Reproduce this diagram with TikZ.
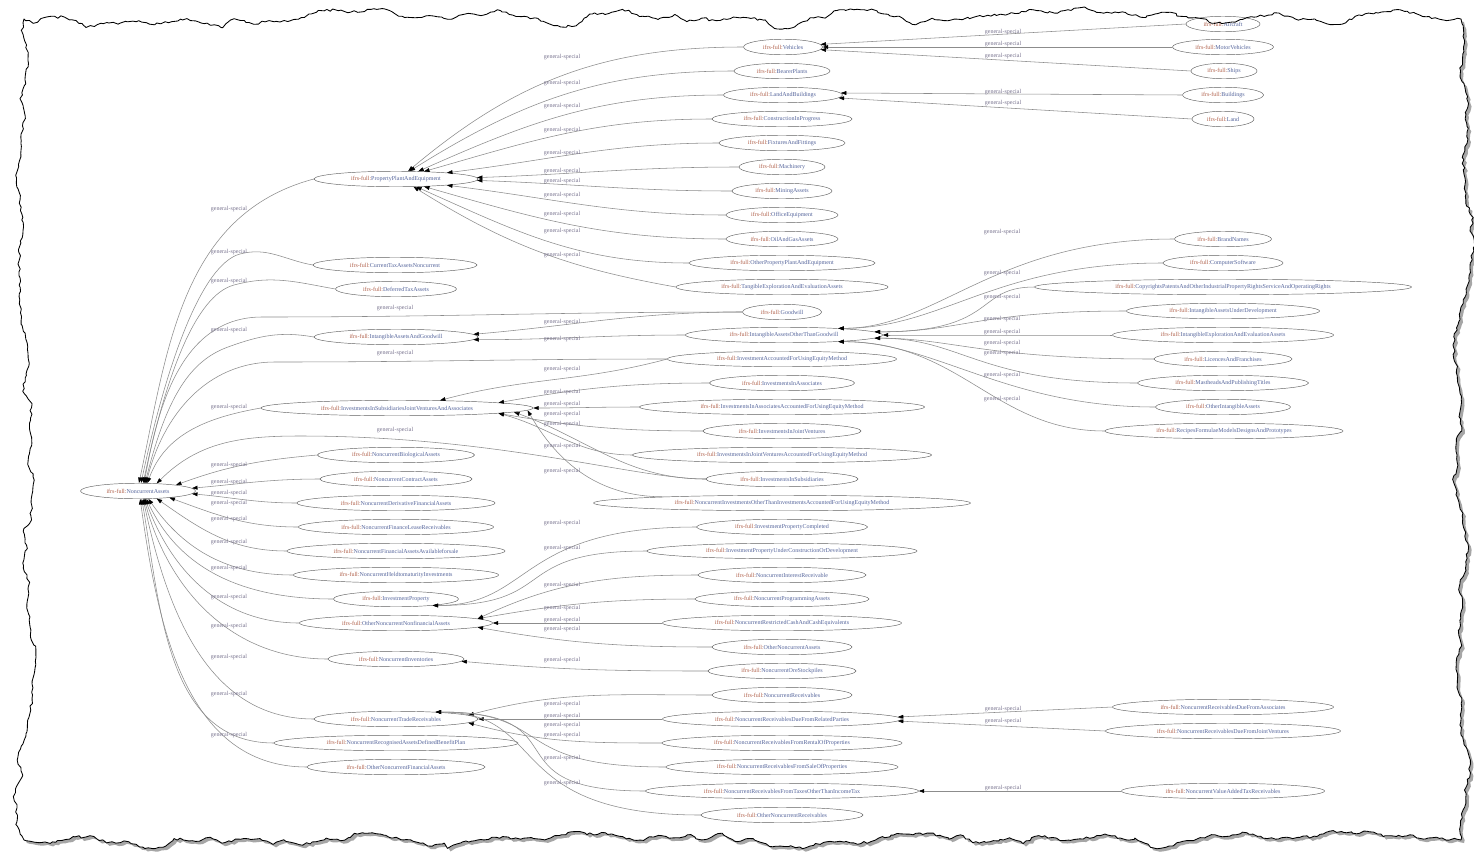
\documentclass[tikz,border=0pt]{standalone}
\usepackage{fontspec}
\setmainfont{Liberation Serif}
\usetikzlibrary{shapes.geometric,arrows.meta,decorations.pathmorphing}
\definecolor{pfx}{HTML}{B0604A}
\definecolor{loc}{HTML}{55659C}
\definecolor{lab}{HTML}{7A7590}
\definecolor{edg}{HTML}{8C8C8C}
\tikzset{
  nd/.style={ellipse,draw=black!62,line width=0.45pt,fill=white,inner sep=0pt,minimum height=15.5pt,font=\fontsize{6}{7}\selectfont},
  gslab/.style={inner sep=0pt,font=\fontsize{6}{7}\selectfont,text=lab},
  gse/.style={draw=edg,line width=0.55pt,-{Triangle[length=5.5pt,width=3.8pt,color=black]}},
  tornA/.style={decoration={random steps,segment length=60pt,amplitude=10pt}},
  tornM/.style={decoration={random steps,segment length=16pt,amplitude=5pt}},
  tornB/.style={decoration={random steps,segment length=3.5pt,amplitude=1.3pt}},
}
\newcommand\nd[5]{\node[nd,minimum width=#4pt] (#1) at (#2,#3) {\textcolor{pfx}{ifrs-full:}\textcolor{loc}{#5}};}
\begin{document}
\begin{tikzpicture}[x=1pt,y=-1pt]
\useasboundingbox (0,0) rectangle (1474,857);
\fill[white] (0,0) rectangle (1474,857);
\pgfmathsetseed{11}
\fill[black!35,xshift=3pt,yshift=-3pt] decorate[tornB]{decorate[tornM]{decorate[tornA]{(24,19) rectangle (1461,840)}}};
\pgfmathsetseed{11}
\fill[white] decorate[tornB]{decorate[tornM]{decorate[tornA]{(24,19) rectangle (1461,840)}}};

% column 1
\nd{NA}{138}{491}{115}{NoncurrentAssets}
% column 2
\nd{PPE}{396}{179}{164}{PropertyPlantAndEquipment}
\nd{CTAN}{395}{265}{164}{CurrentTaxAssetsNoncurrent}
\nd{DTA}{396}{289}{121}{DeferredTaxAssets}
\nd{IAG}{396}{337}{164}{IntangibleAssetsAndGoodwill}
\nd{ISJVA}{397}{408}{272}{InvestmentsInSubsidiariesJointVenturesAndAssociates}
\nd{NBA}{396}{455}{157}{NoncurrentBiologicalAssets}
\nd{NCA}{396}{479}{152}{NoncurrentContractAssets}
\nd{NDFA}{396}{503}{198}{NoncurrentDerivativeFinancialAssets}
\nd{NFLR}{396}{527}{195}{NoncurrentFinanceLeaseReceivables}
\nd{NFAAFS}{396}{551}{218}{NoncurrentFinancialAssetsAvailableforsale}
\nd{NHTM}{396}{575}{205}{NoncurrentHeldtomaturityInvestments}
\nd{IP}{396}{599}{125}{InvestmentProperty}
\nd{ONNFA}{396}{623}{193}{OtherNoncurrentNonfinancialAssets}
\nd{NI}{396}{659}{136}{NoncurrentInventories}
\nd{NTR}{396}{719}{164}{NoncurrentTradeReceivables}
\nd{NRADBP}{396}{743}{244}{NoncurrentRecognisedAssetsDefinedBenefitPlan}
\nd{ONFA}{396}{767}{178}{OtherNoncurrentFinancialAssets}
% column 3
\nd{Vehicles}{783}{47}{79}{Vehicles}
\nd{BearerPlants}{782}{71}{96}{BearerPlants}
\nd{LAB}{783}{95}{119}{LandAndBuildings}
\nd{CIP}{782}{119}{140}{ConstructionInProgress}
\nd{FAF}{782}{143}{126}{FixturesAndFittings}
\nd{Mach}{782}{167}{86}{Machinery}
\nd{Mining}{782}{191}{100}{MiningAssets}
\nd{OffEq}{782}{215}{112}{OfficeEquipment}
\nd{OilGas}{782}{239}{112}{OilAndGasAssets}
\nd{OPPE}{782}{263}{186}{OtherPropertyPlantAndEquipment}
\nd{TEEA}{782}{287}{212}{TangibleExplorationAndEvaluationAssets}
\nd{Goodwill}{782}{312}{79}{Goodwill}
\nd{IAOTG}{784}{335}{197}{IntangibleAssetsOtherThanGoodwill}
\nd{IAFUEM}{782}{359}{229}{InvestmentAccountedForUsingEquityMethod}
\nd{IIA}{782}{383}{145}{InvestmentsInAssociates}
\nd{IIAAFUEM}{782}{407}{285}{InvestmentsInAssociatesAccountedForUsingEquityMethod}
\nd{IIJV}{782}{431}{158}{InvestmentsInJointVentures}
\nd{IIJVAFUEM}{782}{455}{299}{InvestmentsInJointVenturesAccountedForUsingEquityMethod}
\nd{IIS}{782}{479}{152}{InvestmentsInSubsidiaries}
\nd{NIOTI}{782}{503}{377}{NoncurrentInvestmentsOtherThanInvestmentsAccountedForUsingEquityMethod}
\nd{IPC}{782}{527}{171}{InvestmentPropertyCompleted}
\nd{IPUCOD}{782}{551}{270}{InvestmentPropertyUnderConstructionOrDevelopment}
\nd{NIR}{782}{575}{168}{NoncurrentInterestReceivable}
\nd{NPA}{782}{599}{174}{NoncurrentProgrammingAssets}
\nd{NRCCE}{782}{623}{239}{NoncurrentRestrictedCashAndCashEquivalents}
\nd{ONA}{782}{647}{140}{OtherNoncurrentAssets}
\nd{NOS}{782}{671}{148}{NoncurrentOreStockpiles}
\nd{NR}{782}{695}{140}{NoncurrentReceivables}
\nd{NRDFRP}{782}{719}{239}{NoncurrentReceivablesDueFromRelatedParties}
\nd{NRFRP}{782}{743}{240}{NoncurrentReceivablesFromRentalOfProperties}
\nd{NRFSP}{782}{767}{232}{NoncurrentReceivablesFromSaleOfProperties}
\nd{NRFTOTIT}{782}{791}{273}{NoncurrentReceivablesFromTaxesOtherThanIncomeTax}
\nd{ONR}{782}{815}{162}{OtherNoncurrentReceivables}
% column 4
\nd{Aircraft}{1223}{24}{74}{Aircraft}
\nd{MotorVehicles}{1223}{47}{101}{MotorVehicles}
\nd{Ships}{1224}{71}{66}{Ships}
\nd{Buildings}{1223}{95}{81}{Buildings}
\nd{Land}{1223}{119}{62}{Land}
\nd{BrandNames}{1223}{239}{97}{BrandNames}
\nd{CompSoft}{1223}{263}{120}{ComputerSoftware}
\nd{Copyrights}{1223}{287}{377}{CopyrightsPatentsAndOtherIndustrialPropertyRightsServiceAndOperatingRights}
\nd{IAUD}{1223}{311}{193}{IntangibleAssetsUnderDevelopment}
\nd{IEAEA}{1223}{335}{221}{IntangibleExplorationAndEvaluationAssets}
\nd{LAF}{1223}{359}{138}{LicencesAndFranchises}
\nd{MAPT}{1223}{383}{171}{MastheadsAndPublishingTitles}
\nd{OIA}{1223}{407}{135}{OtherIntangibleAssets}
\nd{RFMDP}{1224}{431}{238}{RecipesFormulaeModelsDesignsAndPrototypes}
\nd{NRDFA}{1223}{707}{221}{NoncurrentReceivablesDueFromAssociates}
\nd{NRDFJV}{1223}{731}{235}{NoncurrentReceivablesDueFromJointVentures}
\nd{NVATR}{1223}{791}{203}{NoncurrentValueAddedTaxReceivables}

% via coordinates
\coordinate (vc) at (240,254);
\coordinate (vd) at (234,285);
\coordinate (vi) at (228,347);
\coordinate (vg) at (262,317);
\coordinate (vf) at (275,362);
\coordinate (vs) at (300,436);

% edges into NoncurrentAssets
\draw[gse] (PPE.west) to[out=195,in=78] (NA.83);
\draw[gse] (CTAN.west) to[out=170,in=15] (vc) to[out=195,in=78,out distance=40pt,in distance=120pt] (NA.69);
\draw[gse] (DTA.west) to[out=170,in=15] (vd) to[out=195,in=78,out distance=40pt,in distance=110pt] (NA.57);
\draw[gse] (Goodwill.west) to[out=180,in=0] (vg) to[out=180,in=80] (NA.52);
\draw[gse] (IAG.west) to[out=170,in=20] (vi) to[out=200,in=76,out distance=40pt,in distance=90pt] (NA.48);
\draw[gse] (IAFUEM.west) to[out=180,in=0] (vf) to[out=180,in=76] (NA.44);
\draw[gse] (ISJVA.west) to[out=190,in=70] (NA.40);
\draw[gse] (IIS.west) to[out=180,in=0,out distance=70pt,in distance=200pt] (vs) to[out=180,in=45] (NA.22);
\draw[gse] (NBA.west) to[out=185,in=20] (NA.9);
\draw[gse] (NCA.west) to[out=180,in=5] (NA.3);
\draw[gse] (NDFA.west) to[out=180,in=-5] (NA.-3);
\draw[gse] (NFLR.west) to[out=180,in=-20] (NA.-12);
\draw[gse] (NFAAFS.west) to[out=180,in=-35] (NA.-22);
\draw[gse] (NHTM.west) to[out=180,in=-55] (NA.-37);
\draw[gse] (IP.west) to[out=180,in=-65] (NA.-43);
\draw[gse] (ONNFA.west) to[out=180,in=-70] (NA.-48);
\draw[gse] (NI.west) to[out=180,in=-75] (NA.-52);
\draw[gse] (NTR.west) to[out=180,in=-78] (NA.-57);
\draw[gse] (NRADBP.west) to[out=180,in=-80] (NA.-65);
\draw[gse] (ONFA.west) to[out=180,in=-82] (NA.-75);

% edges into PropertyPlantAndEquipment
\draw[gse] (Vehicles.west) to[out=180,in=40] (PPE.33);
\draw[gse] (BearerPlants.west) to[out=180,in=32] (PPE.30);
\draw[gse] (LAB.west) to[out=180,in=24] (PPE.19.6);
\draw[gse] (CIP.west) to[out=180,in=16] (PPE.15.2);
\draw[gse] (FAF.west) to[out=180,in=7] (PPE.7.2);
\draw[gse] (Mach.west) to[out=180,in=2] (PPE.1.5);
\draw[gse] (Mining.west) to[out=180,in=-2] (PPE.-1.5);
\draw[gse] (OffEq.west) to[out=180,in=-7] (PPE.-7.2);
\draw[gse] (OilGas.west) to[out=180,in=-16] (PPE.-15.2);
\draw[gse] (OPPE.west) to[out=180,in=-24] (PPE.-21.6);
\draw[gse] (TEEA.west) to[out=170,in=-32] (PPE.-24);

% intangible assets and goodwill
\draw[gse] (Goodwill.west) to[out=180,in=5] (IAG.2);
\draw[gse] (IAOTG.west) to[out=180,in=0] (IAG.-2);

% investments in subsidiaries, JV and associates
\draw[gse] (IAFUEM.west) to[out=195,in=15] (ISJVA.10.2);
\draw[gse] (IIA.west) to[out=180,in=10] (ISJVA.3.6);
\draw[gse] (IIAAFUEM.west) to[out=180,in=0] (ISJVA.east);
\draw[gse] (IIJV.west) to[out=180,in=-10] (ISJVA.-3.1);
\draw[gse] (IIJVAFUEM.west) to[out=180,in=-15] (ISJVA.-3.1);
\draw[gse] (IIS.west) to[out=180,in=-20] (ISJVA.-2.5);
\draw[gse] (NIOTI.177) to[out=180,in=-60] (ISJVA.-1.9);

% investment property
\draw[gse] (IPC.west) to[out=180,in=0,out distance=180pt,in distance=100pt] (IP.-10);
\draw[gse] (IPUCOD.west) to[out=180,in=0,out distance=140pt,in distance=128pt] (IP.-10);

% other non-current non-financial assets
\draw[gse] (NIR.west) to[out=180,in=25] (ONNFA.3.2);
\draw[gse] (NPA.west) to[out=180,in=10] (ONNFA.3.2);
\draw[gse] (NRCCE.west) to[out=180,in=0] (ONNFA.east);
\draw[gse] (ONA.west) to[out=180,in=-10] (ONNFA.-3.2);

% inventories
\draw[gse] (NOS.west) to[out=180,in=-5] (NI.-2);

% trade receivables
\draw[gse] (NR.west) to[out=180,in=15] (NTR.3.1);
\draw[gse] (NRDFRP.west) to[out=180,in=0] (NTR.east);
\draw[gse] (NRFRP.west) to[out=180,in=-15] (NTR.-3.1);
\draw[gse] (NRFSP.west) to[out=180,in=0,out distance=160pt,in distance=120pt] (NTR.10.6);
\draw[gse] (NRFTOTIT.west) to[out=180,in=0,out distance=160pt,in distance=150pt] (NTR.10.6);
\draw[gse] (ONR.west) to[out=180,in=0,out distance=200pt,in distance=115pt] (NTR.10.6);

% column 4 -> column 3
\draw[gse] (Aircraft.west) -- (Vehicles.4);
\draw[gse] (MotorVehicles.west) -- (Vehicles.east);
\draw[gse] (Ships.west) -- (Vehicles.-4);
\draw[gse] (Buildings.west) -- (LAB.2);
\draw[gse] (Land.west) -- (LAB.-3);
\draw[gse] (BrandNames.west) to[out=180,in=0,out distance=180pt,in distance=100pt] (IAOTG.7.4);
\draw[gse] (CompSoft.west) to[out=180,in=0,out distance=170pt,in distance=106pt] (IAOTG.7.4);
\draw[gse] (Copyrights.west) to[out=180,in=0,out distance=60pt,in distance=124pt] (IAOTG.2.9);
\draw[gse] (IAUD.west) to[out=180,in=0,out distance=150pt,in distance=88pt] (IAOTG.2.9);
\draw[gse] (IEAEA.west) to[out=180,in=0] (IAOTG.east);
\draw[gse] (LAF.west) to[out=180,in=0,out distance=170pt,in distance=77pt] (IAOTG.-2.9);
\draw[gse] (MAPT.west) to[out=180,in=0,out distance=160pt,in distance=88pt] (IAOTG.-2.9);
\draw[gse] (OIA.west) to[out=180,in=0,out distance=150pt,in distance=97pt] (IAOTG.-7.4);
\draw[gse] (RFMDP.west) to[out=180,in=0,out distance=110pt,in distance=123pt] (IAOTG.-7.4);
\draw[gse] (NRDFA.west) -- (NRDFRP.1.5);
\draw[gse] (NRDFJV.west) -- (NRDFRP.-1.5);
\draw[gse] (NVATR.west) -- (NRFTOTIT.east);

% edge labels
\foreach \x/\y [count=\i] in {
 229/209,229/252,229/281,229/330,229/407,229/465,229/482,229/493,229/503,229/519,229/542,229/568,229/597,229/626,229/657,229/694,229/735,
 395/308,395/353,395/430,
 562/57,562/83,562/106,562/130,562/153,562/171,562/181,562/195,562/214,562/231,562/255,
 562/322,562/339,562/369,562/392,562/404,562/414,562/424,562/446,562/471,
 562/523,562/548,562/585,562/608,562/620,562/629,562/660,
 562/704,562/716,562/725,562/735,562/758,562/783,
 1003/32,1003/44,1003/56,1003/92,1003/103,
 1002/232,1002/273,1002/297,1002/319,1002/332,1002/343,1002/353,1002/375,1002/399,
 1003/709,1003/721,1003/788}
 \node[gslab] (l\i) at (\x,\y) {general-special};

\pgfmathsetseed{11}
\draw[black,line width=0.85pt,line join=round] decorate[tornB]{decorate[tornM]{decorate[tornA]{(24,19) rectangle (1461,840)}}};
\end{tikzpicture}
\end{document}
